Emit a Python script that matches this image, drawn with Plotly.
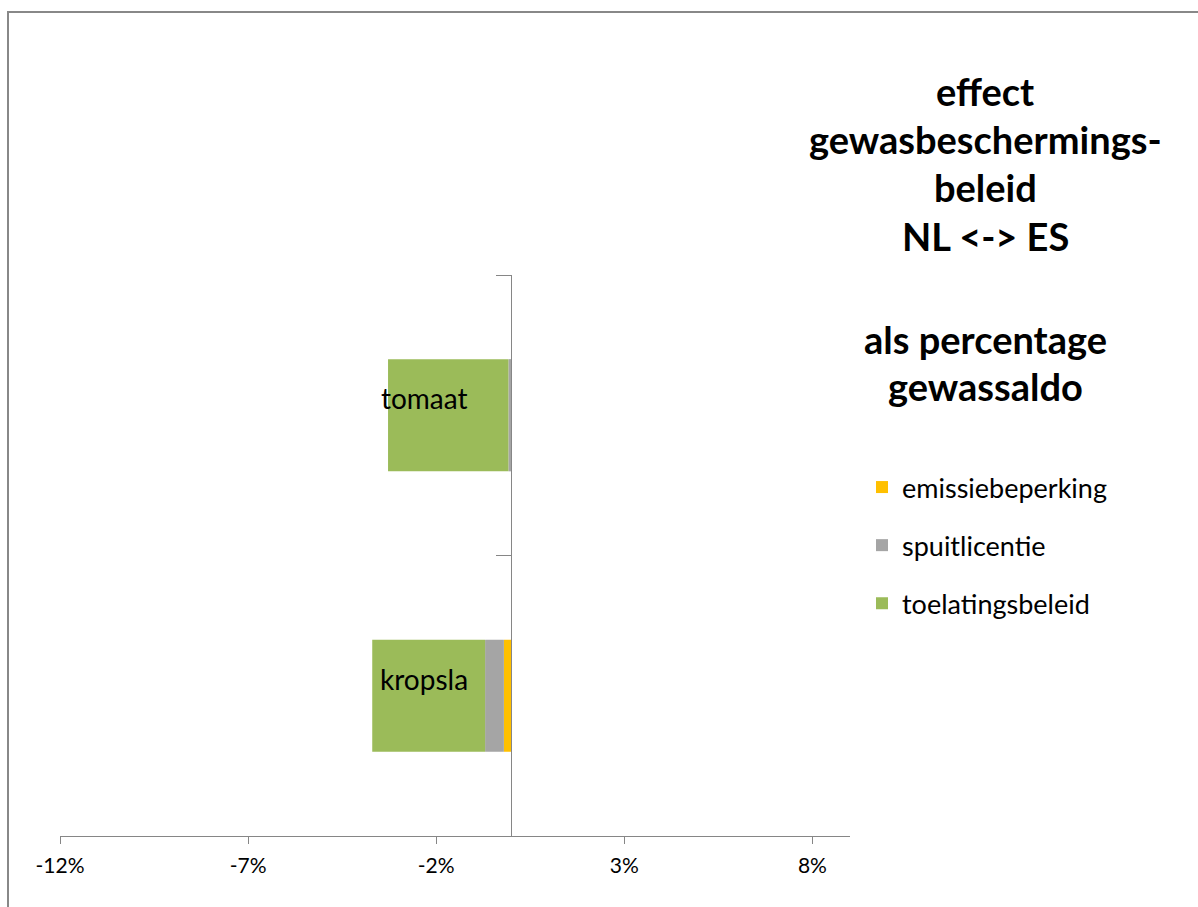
import plotly.graph_objects as go

# Data: effect of crop protection policy, NL vs ES, as % of crop margin
categories = ["kropsla", "tomaat"]
emissiebeperking = [-0.2, 0.0]
spuitlicentie = [-0.5, -0.08]
toelatingsbeleid = [-3.0, -3.2]

series_names = ["emissiebeperking", "spuitlicentie", "toelatingsbeleid"]
series_values = [emissiebeperking, spuitlicentie, toelatingsbeleid]
series_colors = ["#FFC000", "#A5A5A5", "#9BBB59"]

x_tickvals = [-12, -7, -2, 3, 8]
x_ticktext = ["-12%", "-7%", "-2%", "3%", "8%"]
x_range = [-12, 9]

title_lines = ["effect", "gewasbeschermings-", "beleid", "NL <-> ES", "",
               "als percentage", "gewassaldo"]

W, H = 1198, 907
ML, MR, MT, MB = 60, 348, 275, 71
PW, PH = W - ML - MR, H - MT - MB

def px_x(px):
    return (px - ML) / PW

def px_y(py):
    return 1 - (py - MT) / PH

FONT = "Lato"
AXIS_COLOR = "#868686"

fig = go.Figure()
for i, (name, vals, col) in enumerate(zip(series_names, series_values, series_colors)):
    fig.add_trace(go.Bar(
        y=categories, x=vals, name=name, orientation="h",
        marker=dict(color=col, line=dict(width=0)),
        legendgroup=name,
    ))

# y axis sits on x = 0
zero_pos = (0 - x_range[0]) / (x_range[1] - x_range[0])

fig.update_layout(
    width=W, height=H,
    margin=dict(l=ML, r=MR, t=MT, b=MB),
    paper_bgcolor="white", plot_bgcolor="white",
    barmode="relative", bargap=0.6,
    font=dict(family=FONT, color="#000000"),
    showlegend=True,
    legend=dict(
        x=px_x(862), y=px_y(463), xanchor="left", yanchor="top",
        font=dict(family=FONT, size=27, color="#000000"),
        traceorder="grouped", tracegroupgap=20,
        bgcolor="rgba(0,0,0,0)",
    ),
    xaxis=dict(
        range=x_range, tickvals=x_tickvals, ticktext=x_ticktext,
        showgrid=False, zeroline=False,
        showline=True, linecolor=AXIS_COLOR, linewidth=1,
        ticks="outside", ticklen=7, tickcolor=AXIS_COLOR, tickwidth=1,
        tickfont=dict(family=FONT, size=21, color="#000000"),
        ticklabelstandoff=4,
        fixedrange=True,
    ),
    yaxis=dict(
        type="category", categoryorder="array", categoryarray=categories,
        range=[-0.5, 1.5],
        anchor="free", position=zero_pos,
        showgrid=False, zeroline=False,
        showline=True, linecolor=AXIS_COLOR, linewidth=1,
        ticks="outside", tickson="boundaries", ticklen=15,
        tickcolor=AXIS_COLOR, tickwidth=1,
        showticklabels=False,
        fixedrange=True,
    ),
)

# category names, placed left of the vertical axis
for cat in categories:
    fig.add_annotation(
        x=0, y=cat, xref="x", yref="y", text=cat, showarrow=False,
        xanchor="right", yanchor="middle", xshift=-41, yshift=17,
        font=dict(family=FONT, size=28, color="#000000"),
    )

# title block on the right
title_y = [91, 139, 187, 236, 288, 339, 386]
for line, py in zip(title_lines, title_y):
    if not line:
        continue
    fig.add_annotation(
        x=px_x(985), y=px_y(py), xref="paper", yref="paper", text=f"<b>{line}</b>",
        showarrow=False, xanchor="center", yanchor="middle",
        font=dict(family=FONT, size=38, color="#000000"),
    )

# chart frame
fig.add_shape(
    type="rect", xref="paper", yref="paper",
    x0=px_x(8), x1=px_x(1260), y0=px_y(960), y1=px_y(12),
    line=dict(color="#888888", width=2), fillcolor="rgba(0,0,0,0)", layer="below",
)

fig.write_html("out.html")
